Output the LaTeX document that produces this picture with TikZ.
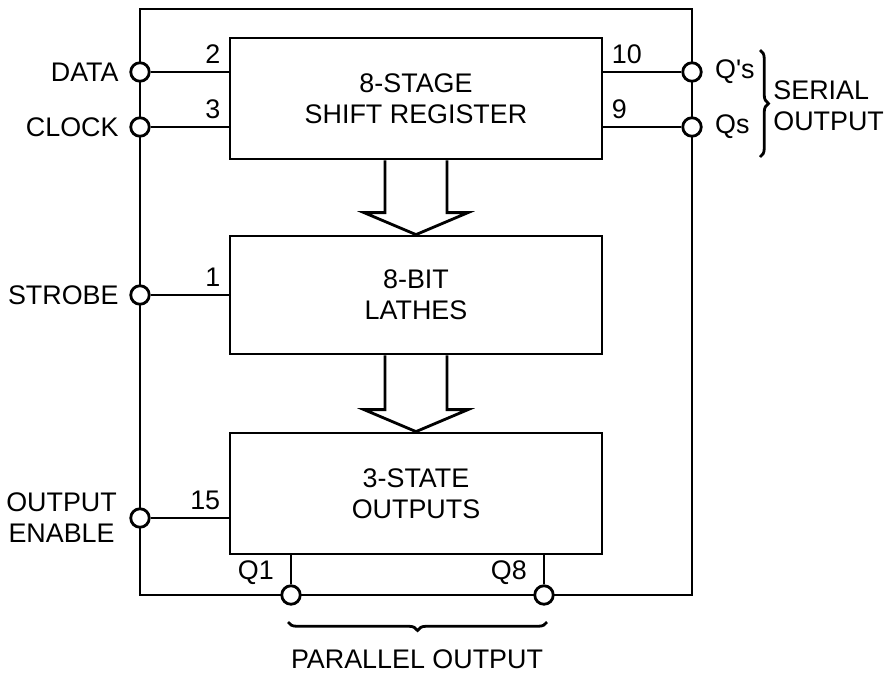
\documentclass[tikz,border=0pt]{standalone}
\usepackage{fontspec}
\setmainfont{Liberation Sans}
\usetikzlibrary{positioning,calc,decorations.pathreplacing}

\tikzset{
  block/.style={draw,line width=1.6pt,minimum width=7.44cm,minimum height=2.42cm,align=center},
  pin/.style={circle,draw,line width=1.6pt,fill=white,minimum size=0.37cm,inner sep=0pt},
  pinnum/.style={inner sep=4pt},
  busline/.style={line width=1.6pt,line join=miter},
  brace/.style={decorate,decoration={brace,amplitude=0.17cm},line width=1.6pt}
}
\newcommand{\busarrow}[2]{%
  \draw[busline] ($(#1.south)+(-31,0)$) -- ($(#2.north)+(-31,-22)$) -- ($(#2.north)+(-52,-22)$)
    -- (#2.north) -- ($(#2.north)+(52,-22)$) -- ($(#2.north)+(31,-22)$) -- ($(#1.south)+(31,0)$);}

\begin{document}
\begin{tikzpicture}[x=0.02cm,y=-0.02cm,line width=1.6pt,every node/.style={font=\fontsize{15.3}{17.6}\selectfont}]
  \useasboundingbox (0,0) rectangle (893,674);
  % package outline
  \draw (140,9) rectangle (692,595);
  % blocks
  \node[block] (shift) at (416,98.5) {8-STAGE\\SHIFT REGISTER};
  \node[block,minimum height=2.36cm] (latch) at (416,295) {8-BIT\\LATHES};
  \node[block] (out) at (416,493.5) {3-STATE\\OUTPUTS};
  \busarrow{shift}{latch}
  \busarrow{latch}{out}
  % pins
  \node[pin] (data) at (140,72) {};
  \node[pin] (clock) at (140,127) {};
  \node[pin] (strobe) at (140,295) {};
  \node[pin] (oe) at (140,518) {};
  \node[pin] (qsp) at (692,72) {};
  \node[pin] (qs) at (692,127) {};
  \node[pin] (q1) at (291,595) {};
  \node[pin] (q8) at (544,595) {};
  \node[left=2pt of data] {DATA};
  \node[left=2pt of clock] {CLOCK};
  \node[left=2pt of strobe] {STROBE};
  \node[left=3pt of oe,align=center] {OUTPUT\\ENABLE};
  \node[right=3pt of qsp] {Q\textquotesingle s};
  \node[right=3pt of qs] {Qs};
  % pin lines
  \draw (data) -- (data -| shift.west) node[pinnum,above left] {2};
  \draw (clock) -- (clock -| shift.west) node[pinnum,above left] {3};
  \draw (strobe) -- (strobe -| latch.west) node[pinnum,above left] {1};
  \draw (oe) -- (oe -| out.west) node[pinnum,above left] {15};
  \draw (qsp) -- (qsp -| shift.east) node[pinnum,above right] {10};
  \draw (qs) -- (qs -| shift.east) node[pinnum,above right] {9};
  \draw (q1 |- out.south) -- (q1) node[pinnum,above left=1pt and 5pt] {Q1};
  \draw (q8 |- out.south) -- (q8) node[pinnum,above left=1pt and 5pt] {Q8};
  % groups
  \draw[brace] (760,50) -- (760,157);
  \node[align=left,anchor=west,inner sep=0pt] (serial) at (772,106) {SERIAL\\OUTPUT};
  \draw[brace] (547,622) -- (288,622);
  \node[inner sep=1pt] (par) at (417,659) {PARALLEL OUTPUT};
\end{tikzpicture}
\end{document}
